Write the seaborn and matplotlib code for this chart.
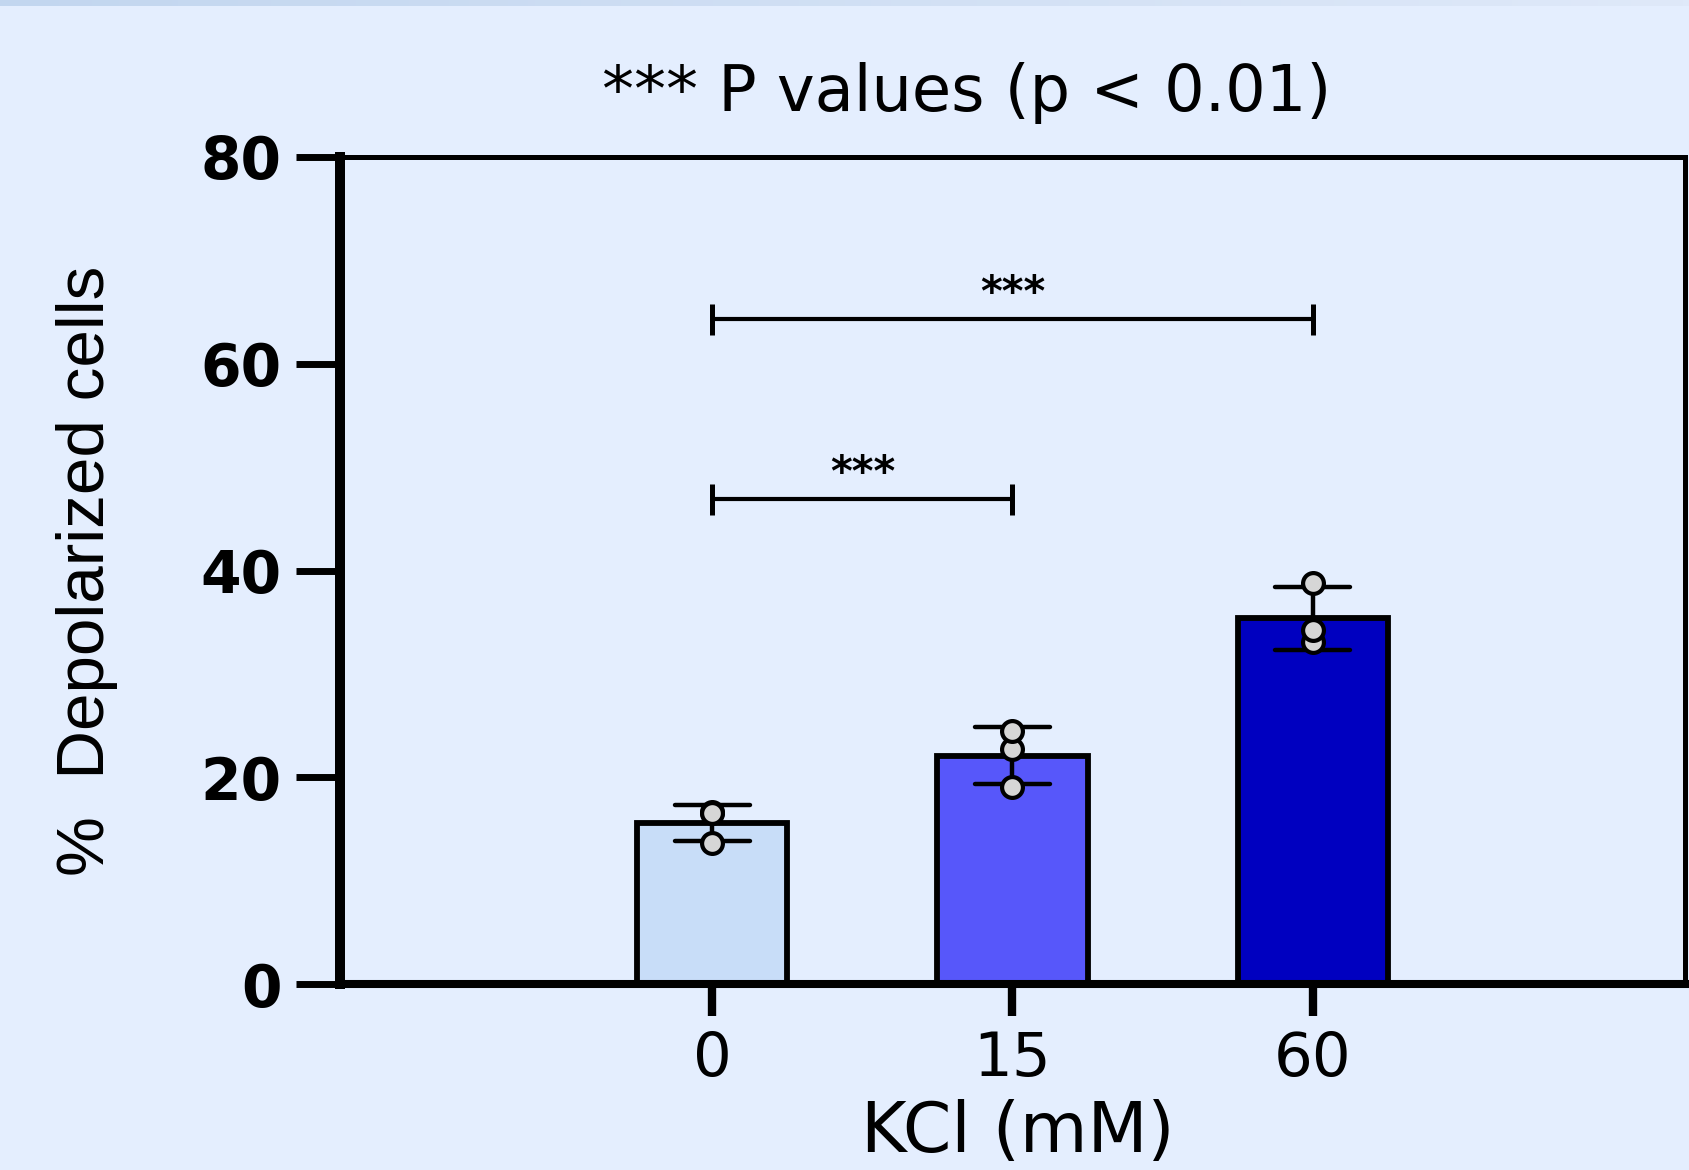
import numpy as np
import pandas as pd
import matplotlib
matplotlib.use("Agg")
import matplotlib.pyplot as plt
import seaborn as sns

# ---- data -------------------------------------------------------------
kcl_levels = ["0", "15", "60"]
rep_0 = [13.6, 16.6, 16.5]
rep_15 = [19.1, 22.7, 24.5]
rep_60 = [33.1, 34.2, 38.8]
bar_colors = ["#c8ddf8", "#5757fa", "#0000c0"]
y_ticks = [0, 20, 40, 60, 80]

# significance brackets: (group a, group b, height, label)
sig_pairs = [("0", "15", 46.9, "***"), ("0", "60", 64.3, "***")]

title_text = "*** P values (p < 0.01)"
x_label = "KCl (mM)"
y_label = "%  Depolarized cells"

df = pd.DataFrame({
    "kcl": np.repeat(kcl_levels, 3),
    "pct": rep_0 + rep_15 + rep_60,
})

# ---- figure -----------------------------------------------------------
bg = "#e4eefe"
sns.set_theme(style="white")
plt.rcParams["font.family"] = ["DejaVu Sans"]
plt.rcParams["text.color"] = "black"
plt.rcParams["axes.labelcolor"] = "black"

fig = plt.figure(figsize=(16.9, 11.7), dpi=100, facecolor=bg)
ax = fig.add_axes([340 / 1690, 1 - 984 / 1170, 1345 / 1690, 827 / 1170])
ax.set_facecolor(bg)

# thin shaded strip along the top edge of the figure
band = fig.add_axes([0, 1 - 6 / 1170, 1, 6 / 1170])
band.imshow(np.linspace(0, 1, 256)[None, :], aspect="auto",
            cmap=matplotlib.colors.LinearSegmentedColormap.from_list(
                "band", ["#c2d6ef", "#dfe9f9"]))
band.set_axis_off()

sns.barplot(data=df, x="kcl", y="pct", hue="kcl", order=kcl_levels,
            hue_order=kcl_levels, palette=bar_colors, legend=False,
            errorbar="sd", capsize=0.25, width=0.5,
            err_kws={"color": "black", "linewidth": 3.2},
            edgecolor="black", linewidth=4.2, saturation=1, ax=ax)

sns.stripplot(data=df, x="kcl", y="pct", order=kcl_levels, jitter=False,
              color="#d6d6d6", edgecolor="black", linewidth=3.0, size=15,
              zorder=5, ax=ax)

# significance brackets
pos = {k: i for i, k in enumerate(kcl_levels)}
for a, b, h, lab in sig_pairs:
    xa, xb = pos[a], pos[b]
    ax.plot([xa, xb], [h, h], color="black", lw=3, solid_capstyle="butt")
    for xx in (xa, xb):
        ax.plot([xx, xx], [h - 1.5, h + 1.5], color="black", lw=3.6,
                solid_capstyle="butt")
    ax.text((xa + xb) / 2, h + 0.4, lab, ha="center", va="bottom",
            fontsize=30, fontweight="bold", color="black")

ax.set_xlim(-1.24, 3.24)
ax.set_ylim(0, 80)
ax.set_yticks(y_ticks)
ax.set_yticklabels([str(t) for t in y_ticks], fontsize=42, fontweight="bold")
ax.tick_params(axis="y", which="major", direction="out", length=32, width=5,
               pad=10, left=True, colors="black")
ax.tick_params(axis="x", which="major", direction="out", length=23, width=6,
               pad=10, bottom=True, labelsize=44, colors="black")

ax.set_xlabel(x_label, fontsize=50, color="black")
ax.xaxis.set_label_coords(0.504, -0.203)
ax.xaxis.label.set_va("baseline")
ax.set_ylabel(y_label, fontsize=48.5, color="black",
              family=["Liberation Sans"])
ax.yaxis.set_label_coords(-0.165, 0.5)

for side, lw in (("left", 7.2), ("bottom", 5.8), ("top", 3.6), ("right", 3.6)):
    ax.spines[side].set_visible(True)
    ax.spines[side].set_color("black")
    ax.spines[side].set_linewidth(lw)

fig.text(967 / 1690, 1 - 93 / 1170, title_text, ha="center", va="center",
         fontsize=46, color="black")

fig.savefig("out.png", dpi=100, facecolor=bg)
